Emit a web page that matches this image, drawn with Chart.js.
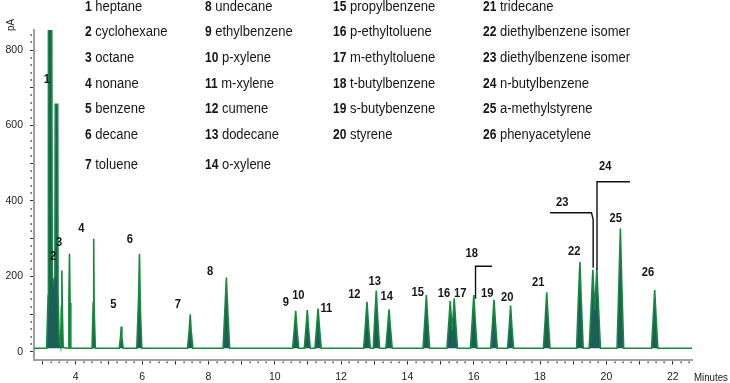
<!DOCTYPE html>
<html><head><meta charset="utf-8">
<script src="https://cdn.jsdelivr.net/npm/chart.js@4/dist/chart.umd.min.js"></script>
<style>html,body{margin:0;padding:0;background:#fff}canvas{display:block}</style>
</head><body>
<canvas id="c" width="730" height="383"></canvas>
<script>
// ---- data ----
const traceTimes = [
  2.74,
  3.12, 3.165, 3.175, 3.275, 3.29, 3.33, 3.37, 3.38, 3.455, 3.465, 3.50,
  3.54, 3.565, 3.58, 3.595, 3.62,
  3.77, 3.792, 3.81, 3.828, 3.85,
  4.49, 4.525, 4.54, 4.555, 4.59,
  5.31, 5.35, 5.37, 5.39, 5.43,
  5.84, 5.895, 5.92, 5.945, 5.99,
  7.37, 7.42, 7.45, 7.48, 7.53,
  8.44, 8.495, 8.54, 8.585, 8.64,
  10.54, 10.59, 10.63, 10.67, 10.72,
  10.89, 10.94, 10.98, 11.02, 11.07,
  11.21, 11.26, 11.305, 11.35, 11.40,
  12.68, 12.735, 12.78, 12.825, 12.88,
  12.97, 13.015, 13.06, 13.105, 13.16,
  13.35, 13.40, 13.445, 13.49, 13.54,
  14.47, 14.525, 14.57, 14.615, 14.67,
  15.19, 15.245, 15.29, 15.35, 15.41, 15.455, 15.51,
  15.90, 15.955, 16.00, 16.045, 16.10,
  16.51, 16.565, 16.61, 16.655, 16.71,
  17.02, 17.07, 17.11, 17.15, 17.20,
  18.10, 18.155, 18.20, 18.245, 18.30,
  19.10, 19.15, 19.20, 19.245, 19.30,
  19.48, 19.54, 19.59, 19.645, 19.71, 19.76, 19.82,
  20.32, 20.375, 20.42, 20.465, 20.52,
  21.36, 21.41, 21.455, 21.50, 21.55,
  22.58
];
const traceSignal = [
  10,
  10, 150, 900, 900, 200, 180, 200, 656, 656, 150, 30,
  15, 120, 216, 110, 12,
  10, 140, 260, 130, 10,
  10, 130, 300, 110, 10,
  10, 40, 67, 38, 10,
  10, 150, 260, 120, 10,
  10, 58, 100, 55, 10,
  10, 110, 197, 105, 10,
  10, 62, 109, 60, 10,
  10, 62, 111, 60, 10,
  10, 64, 115, 62, 10,
  10, 74, 133, 72, 10,
  10, 90, 163, 88, 10,
  10, 63, 113, 61, 10,
  10, 84, 151, 82, 10,
  10, 75, 135, 55, 142, 78, 10,
  10, 84, 151, 82, 10,
  10, 76, 138, 75, 10,
  10, 68, 123, 66, 10,
  10, 87, 158, 85, 10,
  10, 130, 238, 128, 10,
  10, 120, 218, 110, 221, 120, 10,
  10, 180, 327, 175, 10,
  10, 90, 164, 88, 10,
  10
];
const baselineSignal = 10;

const peakLabelText = ['1','2','3','4','5','6','7','8','9','10','11','12','13','14','15','16','17','18','19','20','21','22','23','24','25','26'];
const peakLabelTime = [3.126,3.316,3.497,4.169,5.134,5.628,7.075,8.049,10.331,10.711,11.555,12.399,13.014,13.376,14.311,15.103,15.595,15.939,16.409,17.012,17.946,19.032,18.67,19.966,20.28,21.253];
const peakLabelSignal = [722,252,289,327,127,297,127,213,131,151,115,153,187,148,157,155,155,260,156,145,183,266,396,491,355,212];

const bracket18Time = [16.053, 16.053, 16.551];
const bracket18Signal = [141, 227, 227];
const bracket23Time = [18.299, 19.55, 19.60, 19.60];
const bracket23Signal = [369, 369, 350, 223];
const bracket24Time = [19.716, 19.716, 20.711];
const bracket24Signal = [218, 451, 451];

const compoundNumbers = [
  ['1','2','3','4','5','6','7'],
  ['8','9','10','11','12','13','14'],
  ['15','16','17','18','19','20'],
  ['21','22','23','24','25','26']
];
const compoundNames = [
  ['heptane','cyclohexane','octane','nonane','benzene','decane','toluene'],
  ['undecane','ethylbenzene','p-xylene','m-xylene','cumene','dodecane','o-xylene'],
  ['propylbenzene','p-ethyltoluene','m-ethyltoluene','t-butylbenzene','s-butybenzene','styrene'],
  ['tridecane','diethylbenzene isomer','diethylbenzene isomer','n-butylbenzene','a-methylstyrene','phenyacetylene']
];
const yTickLabels = [0, 200, 400, 600, 800];
const xTickLabels = [4, 6, 8, 10, 12, 14, 16, 18, 20, 22];
const yAxisTitle = 'pA';
const xAxisTitle = 'Minutes';

// ---- chart ----
const FF = "'Liberation Sans', Arial, sans-serif";
const legendColX = [85, 205, 333, 483];
const legendRowY = [7, 32.5, 58.3, 84, 109.3, 135, 165];

function sText(ctx, s, x, y, font, sx, align) {
  ctx.save();
  ctx.translate(x, y);
  ctx.scale(sx, 1);
  ctx.font = font;
  ctx.textAlign = align;
  ctx.textBaseline = 'middle';
  ctx.fillText(s, 0, 0);
  const w = ctx.measureText(s).width * sx;
  ctx.restore();
  return w;
}

const decor = {
  id: 'decor',
  afterDraw(chart) {
    const ctx = chart.ctx, xs = chart.scales.x, ys = chart.scales.y;
    ctx.save();
    // minor ticks
    ctx.fillStyle = '#222';
    for (let i = 12; i <= 90; i++) {
      if (i % 4 === 0) continue;
      const px = Math.round(xs.getPixelForValue(i / 4));
      ctx.fillRect(px - 0.5, xs.top + 2, 1.2, 1.6);
    }
    for (let v = 20; v <= 840; v += 20) {
      if (v % 100 === 0) continue;
      const py = Math.round(ys.getPixelForValue(v));
      ctx.fillRect(ys.right - 3.6, py - 0.6, 1.6, 1.2);
    }
    // brackets
    ctx.strokeStyle = '#111';
    ctx.lineWidth = 1.4;
    [[bracket18Time, bracket18Signal],[bracket23Time, bracket23Signal],[bracket24Time, bracket24Signal]].forEach(([ts, vs]) => {
      ctx.beginPath();
      ts.forEach((t, i) => {
        const px = xs.getPixelForValue(t), py = ys.getPixelForValue(vs[i]);
        i ? ctx.lineTo(px, py) : ctx.moveTo(px, py);
      });
      ctx.stroke();
    });
    // peak labels
    ctx.fillStyle = '#161616';
    peakLabelText.forEach((s, i) => {
      sText(ctx, s, xs.getPixelForValue(peakLabelTime[i]), ys.getPixelForValue(peakLabelSignal[i]), 'bold 13px ' + FF, 0.86, 'center');
    });
    // compound list
    compoundNumbers.forEach((col, c) => {
      col.forEach((num, r) => {
        const x = legendColX[c], y = legendRowY[r];
        const w = sText(ctx, num, x, y, 'bold 14px ' + FF, 0.86, 'left');
        sText(ctx, compoundNames[c][r], x + w + 3.5, y, '14px ' + FF, 0.93, 'left');
      });
    });
    // axis titles
    sText(ctx, xAxisTitle, 694, 378, '11px ' + FF, 0.88, 'left');
    ctx.translate(11, 25);
    ctx.rotate(-Math.PI / 2);
    sText(ctx, yAxisTitle, 0, 0, '11px ' + FF, 0.88, 'center');
    ctx.restore();
  }
};

new Chart(document.getElementById('c'), {
  type: 'line',
  data: {
    datasets: [{
      data: traceTimes.map((t, i) => ({ x: t, y: traceSignal[i] })),
      borderColor: '#17893f',
      borderWidth: 1.6,
      backgroundColor: '#1c5e58',
      fill: { value: baselineSignal },
      pointRadius: 0,
      tension: 0
    }]
  },
  options: {
    responsive: false,
    animation: false,
    devicePixelRatio: 1,
    layout: { padding: { top: 30, right: 38, left: 0, bottom: 0 } },
    plugins: { legend: { display: false }, tooltip: { enabled: false } },
    scales: {
      x: {
        type: 'linear', min: 2.74, max: 22.58,
        ticks: {
          stepSize: 1, includeBounds: false, autoSkip: false, maxRotation: 0,
          callback: v => xTickLabels.includes(v) ? String(v) : '',
          font: { family: FF, size: 10.5 }, color: '#222', padding: 6
        },
        grid: { drawOnChartArea: false, drawTicks: true, tickLength: 5, color: '#333', lineWidth: 1 },
        border: { color: '#a0a0a0', width: 2 },
        afterFit: s => { s.height = 23.5; }
      },
      y: {
        type: 'linear', min: -20, max: 853,
        ticks: {
          stepSize: 100, includeBounds: false, autoSkip: false,
          callback: v => yTickLabels.includes(v) ? String(v) : '',
          font: { family: FF, size: 10.5 }, color: '#222', padding: 7
        },
        grid: { drawOnChartArea: false, drawTicks: true, tickLength: 4, color: '#333', lineWidth: 1 },
        border: { color: '#a0a0a0', width: 2 },
        afterFit: s => { s.width = 34; }
      }
    }
  },
  plugins: [decor]
});
</script>
</body></html>
